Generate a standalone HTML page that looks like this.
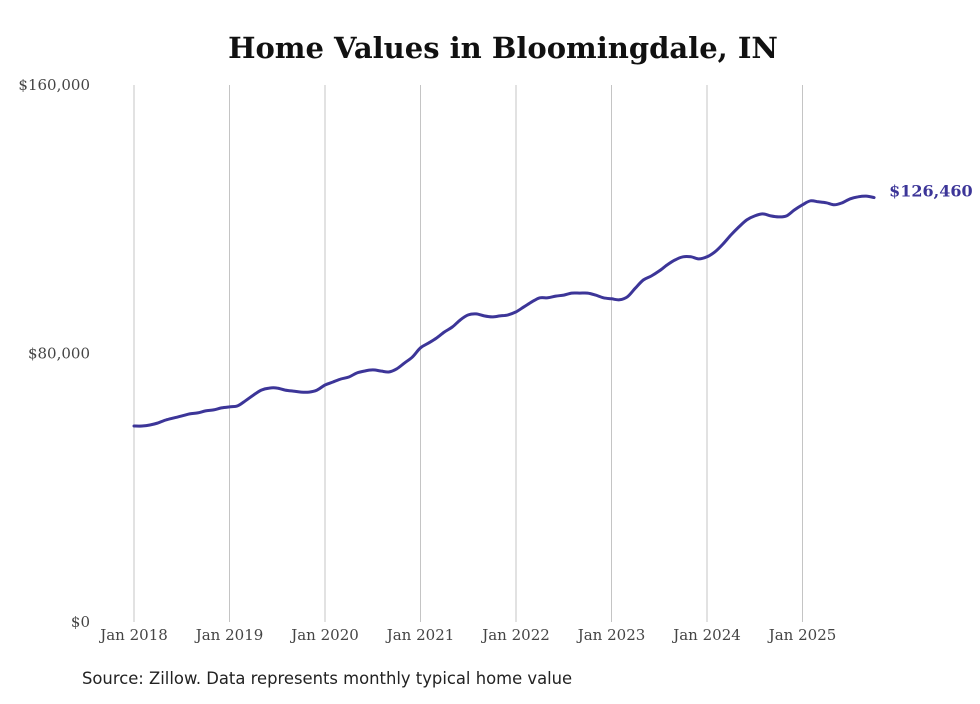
<!DOCTYPE html>
<html><head><meta charset="utf-8"><style>
body{margin:0;background:#fff;width:980px;height:699px;overflow:hidden}
svg text{font-family:"DejaVu Serif",serif}
</style></head><body>
<svg width="980" height="699">
<text x="503" y="58" text-anchor="middle" font-size="29" font-weight="bold" fill="#111">Home Values in Bloomingdale, IN</text>
<g id="grid"></g>
<g id="yax"></g>
<g id="xax"></g>
<path id="line" fill="none" stroke="#3c3598" stroke-width="3" stroke-linejoin="round" stroke-linecap="round"/>
<text id="endlbl" font-size="16" font-weight="bold" fill="#3c3598"></text>
<text x="82" y="684" font-size="16.4" fill="#222" style="font-family:'DejaVu Sans',sans-serif">Source: Zillow. Data represents monthly typical home value</text>
</svg>
<script>
const yTicks=[0,80000,160000];
const yTickLabels=["$0","$80,000","$160,000"];
const xTickLabels=["Jan 2018","Jan 2019","Jan 2020","Jan 2021","Jan 2022","Jan 2023","Jan 2024","Jan 2025"];
const values2018=[58400,58400,58700,59300,60200,60800,61400,62000,62300,62900,63200,63800];
const values2019=[64100,64400,65900,67600,69100,69700,69700,69100,68800,68500,68500,69100];
const values2020=[70600,71500,72400,73000,74200,74800,75100,74800,74500,75400,77200,79000];
const values2021=[81700,83100,84600,86400,87900,90000,91500,91800,91200,90900,91200,91500];
const values2022=[92400,93900,95400,96600,96600,97100,97400,98000,98000,98000,97400,96600];
const values2023=[96300,96000,96900,99500,101900,103100,104600,106400,107900,108800,108800,108200];
const values2024=[108800,110300,112600,115300,117700,119800,121000,121600,121000,120700,121000,122800];
const values2025=[124300,125500,125200,124900,124300,124900,126100,126700,126900,126460];
const values=[].concat(values2018,values2019,values2020,values2021,values2022,values2023,values2024,values2025);
const NS="http://www.w3.org/2000/svg";
const x0=134,mw=95.5/12,yb=622,yt=85;
const X=i=>x0+i*mw;
const Y=v=>yb-(v/160000)*(yb-yt);
const grid=document.getElementById('grid'),yax=document.getElementById('yax'),xax=document.getElementById('xax');
xTickLabels.forEach((t,k)=>{
  const l=document.createElementNS(NS,'line');
  
  
  l.setAttribute('x1',X(k*12));l.setAttribute('x2',X(k*12));l.setAttribute('y1',yt);l.setAttribute('y2',yb);
  l.setAttribute('stroke','#c4c4c4');l.setAttribute('stroke-width','1');
  grid.appendChild(l);
  const tx=document.createElementNS(NS,'text');
  
  
  tx.setAttribute('x',X(k*12));tx.setAttribute('y',640);tx.setAttribute('text-anchor','middle');
  tx.setAttribute('font-size','15');tx.setAttribute('fill','#444');tx.textContent=t;
  xax.appendChild(tx);
});
yTicks.forEach((v,k)=>{
  const tx=document.createElementNS(NS,'text');
  
  
  tx.setAttribute('x',90);tx.setAttribute('y',Y(v)+5);tx.setAttribute('text-anchor','end');
  tx.setAttribute('font-size','15');tx.setAttribute('fill','#444');tx.textContent=yTickLabels[k];
  yax.appendChild(tx);
});
const pts=values.map((v,i)=>[X(i),Y(v)]);
let d='M'+pts[0][0].toFixed(1)+' '+pts[0][1].toFixed(1);
for(let i=0;i<pts.length-1;i++){
  const p0=pts[Math.max(0,i-1)],p1=pts[i],p2=pts[i+1],p3=pts[Math.min(pts.length-1,i+2)];
  const c1=[p1[0]+(p2[0]-p0[0])/6,p1[1]+(p2[1]-p0[1])/6],c2=[p2[0]-(p3[0]-p1[0])/6,p2[1]-(p3[1]-p1[1])/6];
  d+=' C'+c1.map(n=>n.toFixed(1)).join(' ')+' '+c2.map(n=>n.toFixed(1)).join(' ')+' '+p2.map(n=>n.toFixed(1)).join(' ');
}
document.getElementById('line').setAttribute('d',d);
const last=values.length-1,el=document.getElementById('endlbl');
el.setAttribute('x',X(last)+15);el.setAttribute('y',Y(values[last])-1);
el.textContent='$'+values[last].toLocaleString('en-US');
</script>
</body></html>
